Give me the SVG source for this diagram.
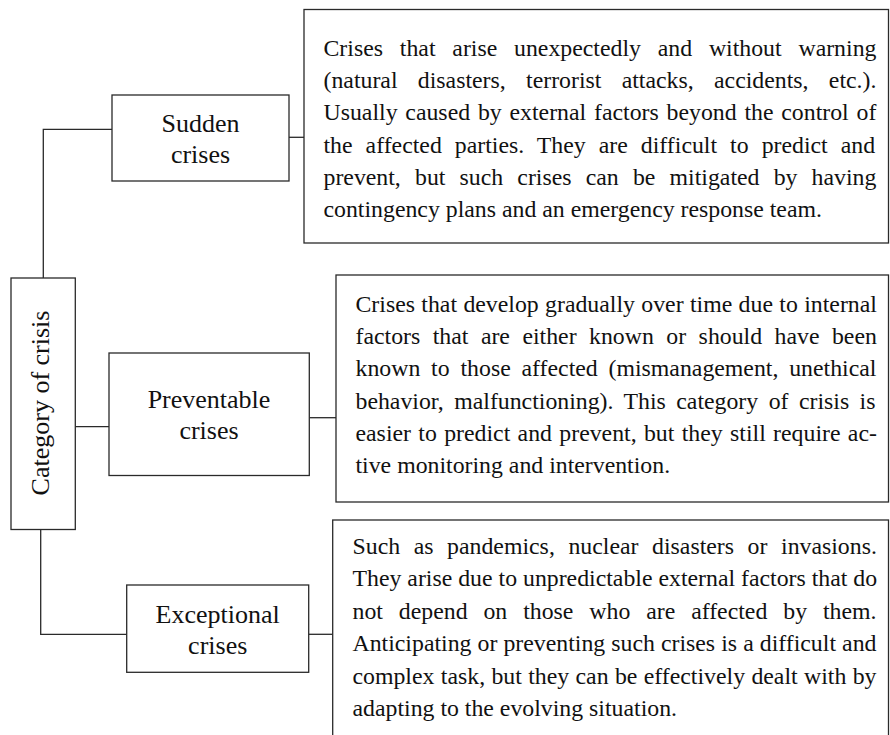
<svg xmlns="http://www.w3.org/2000/svg" width="890" height="735" viewBox="0 0 890 735">
<style>
.box{fill:#fff;stroke:#2a2a2a;stroke-width:1.3}
.ln{fill:none;stroke:#2a2a2a;stroke-width:1.3}
.lbl{font-family:"Liberation Serif","Times New Roman",serif;font-size:26px;fill:#111;text-anchor:middle}
.body{font-family:"Liberation Serif","Times New Roman",serif;font-size:23.8px;fill:#111}
</style>
<rect width="890" height="735" fill="#fff"/>
<g id="connectors">
<path class="ln" d="M112,129.3 H43.3 V278"/>
<path class="ln" d="M75,426.7 H109"/>
<path class="ln" d="M40.7,529.5 V634.3 H126.7"/>
<path class="ln" d="M289,137.3 H304"/>
<path class="ln" d="M309.3,417.7 H336"/>
<path class="ln" d="M308.7,634.3 H332.7"/>
</g>
<g id="category">
<rect class="box" x="11" y="278" width="64.3" height="251.5"/>
<text class="lbl" font-size="25.5" transform="translate(49,403) rotate(-90)">Category of crisis</text>
</g>
<g id="sudden">
<rect class="box" x="112" y="95" width="177" height="86"/>
<text class="lbl" x="200.5" y="132.3">Sudden</text>
<text class="lbl" x="200.5" y="163.3">crises</text>
</g>
<g id="preventable">
<rect class="box" x="109" y="353" width="200.3" height="122.5"/>
<text class="lbl" x="209" y="408.3">Preventable</text>
<text class="lbl" x="209" y="439.3">crises</text>
</g>
<g id="exceptional">
<rect class="box" x="126.7" y="585" width="182" height="87.3"/>
<text class="lbl" x="217.7" y="623.3">Exceptional</text>
<text class="lbl" x="217.7" y="654">crises</text>
</g>
<g id="sudden-desc">
<rect class="box" x="304" y="9.5" width="584.5" height="233.5"/>
<text class="body" x="323.5" y="56" word-spacing="10.87">Crises that arise unexpectedly and without warning</text>
<text class="body" x="323.5" y="88.2" word-spacing="14.37">(natural disasters, terrorist attacks, accidents, etc.).</text>
<text class="body" x="323.5" y="120.4" word-spacing="1.87">Usually caused by external factors beyond the control of</text>
<text class="body" x="323.5" y="152.6" word-spacing="7.09">the affected parties. They are difficult to predict and</text>
<text class="body" x="323.5" y="184.8" word-spacing="8.23">prevent, but such crises can be mitigated by having</text>
<text class="body" x="323.5" y="217">contingency plans and an emergency response team.</text>
</g>
<g id="preventable-desc">
<rect class="box" x="336" y="275" width="552.5" height="227"/>
<text class="body" x="355.5" y="312" word-spacing="0.41">Crises that develop gradually over time due to internal</text>
<text class="body" x="355.5" y="344.2" word-spacing="6.53">factors that are either known or should have been</text>
<text class="body" x="355.5" y="376.4" word-spacing="4.89">known to those affected (mismanagement, unethical</text>
<text class="body" x="355.5" y="408.6" word-spacing="4.51">behavior, malfunctioning). This category of crisis is</text>
<text class="body" x="355.5" y="440.8" word-spacing="1.4">easier to predict and prevent, but they still require ac-</text>
<text class="body" x="355.5" y="473">tive monitoring and intervention.</text>
</g>
<g id="exceptional-desc">
<rect class="box" x="332.7" y="520" width="555.8" height="240"/>
<text class="body" x="352.5" y="554" word-spacing="7.65">Such as pandemics, nuclear disasters or invasions.</text>
<text class="body" x="352.5" y="586.4" word-spacing="0">They arise due to unpredictable external factors that do</text>
<text class="body" x="352.5" y="618.8" word-spacing="9.96">not depend on those who are affected by them.</text>
<text class="body" x="352.5" y="651.2" word-spacing="0.12">Anticipating or preventing such crises is a difficult and</text>
<text class="body" x="352.5" y="683.6" word-spacing="0.41">complex task, but they can be effectively dealt with by</text>
<text class="body" x="352.5" y="716">adapting to the evolving situation.</text>
</g>
</svg>
